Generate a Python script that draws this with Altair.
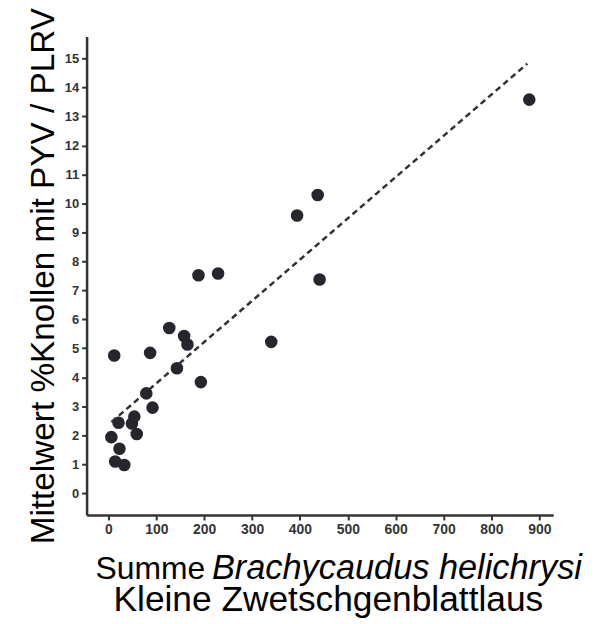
import altair as alt
import pandas as pd

# Data
aphids = [12, 6, 21, 14, 33, 23, 49, 54, 59, 79, 92, 87, 127, 143, 158, 165,
          193, 188, 229, 340, 394, 437, 441, 879]
virus_pct = [4.75, 1.93, 2.43, 1.09, 0.97, 1.53, 2.40, 2.64, 2.04, 3.44, 2.95,
             4.84, 5.70, 4.31, 5.42, 5.13, 3.83, 7.52, 7.58, 5.22, 9.58, 10.29,
             7.37, 13.58]

# Trend line end points
trend_x = [6, 875]
trend_y = [2.45, 14.82]

x_ticks = [0, 100, 200, 300, 400, 500, 600, 700, 800, 900]
y_ticks = list(range(0, 16))

y_title = "Mittelwert %Knollen mit PYV / PLRV"
x_title_a = "Summe"
x_title_b = "Brachycaudus helichrysi"
x_title_c = "Kleine Zwetschgenblattlaus"

pts = pd.DataFrame({"x": aphids, "y": virus_pct})
trend = pd.DataFrame({"x": trend_x, "y": trend_y})

W, H = 469, 481
FONT = "Liberation Sans"
AX = "#333333"

xs = alt.Scale(domain=[-45.7, 929], nice=False, zero=False)
ys = alt.Scale(domain=[-0.755, 15.76], nice=False, zero=False)

xaxis = alt.Axis(values=x_ticks, title=None, grid=False, domainColor=AX, domainWidth=2.5,
                 tickColor=AX, tickWidth=2, tickSize=5, labelFont=FONT, labelFontWeight="bold",
                 labelFontSize=14, labelColor=AX, labelPadding=3, labelOverlap=False)
yaxis = alt.Axis(values=y_ticks, title=None, grid=False, domainColor=AX, domainWidth=2.5,
                 tickColor=AX, tickWidth=2, tickSize=5, labelFont=FONT, labelFontWeight="bold",
                 labelFontSize=13, labelColor=AX, labelPadding=3, labelOverlap=False)

line = alt.Chart(trend).mark_line(color="#333333", strokeWidth=2.5, strokeDash=[6, 4]).encode(
    x=alt.X("x:Q", scale=xs, axis=xaxis),
    y=alt.Y("y:Q", scale=ys, axis=yaxis),
)

dots = alt.Chart(pts).mark_circle(size=160, color="#25262e", opacity=1).encode(
    x=alt.X("x:Q", scale=xs, axis=xaxis),
    y=alt.Y("y:Q", scale=ys, axis=yaxis),
)

anno = pd.DataFrame({"t": [0]})
base_txt = alt.Chart(anno)

t_y = base_txt.mark_text(text=y_title, font=FONT, fontSize=33.5, angle=270, align="center",
                         baseline="alphabetic", color="black").encode(
    x=alt.value(-33), y=alt.value(241))
t_a = base_txt.mark_text(text=x_title_a, font=FONT, fontSize=32, align="left",
                         baseline="alphabetic", color="black").encode(
    x=alt.value(9), y=alt.value(545))
t_b = base_txt.mark_text(text=x_title_b, font=FONT, fontSize=34.5, fontStyle="italic", align="left",
                         baseline="alphabetic", color="black").encode(
    x=alt.value(126), y=alt.value(545))
t_c = base_txt.mark_text(text=x_title_c, font=FONT, fontSize=35.5, align="center",
                         baseline="alphabetic", color="black").encode(
    x=alt.value(243), y=alt.value(578))

chart = alt.layer(line, dots, t_y, t_a, t_b, t_c).properties(
    width=W, height=H,
    background="white",
    autosize=alt.AutoSizeParams(type="none"),
    padding={"left": 79, "top": 27, "right": 40, "bottom": 104},
).configure_view(stroke=None)

chart.save("out.html", embed_options={"renderer": "svg", "actions": False})
